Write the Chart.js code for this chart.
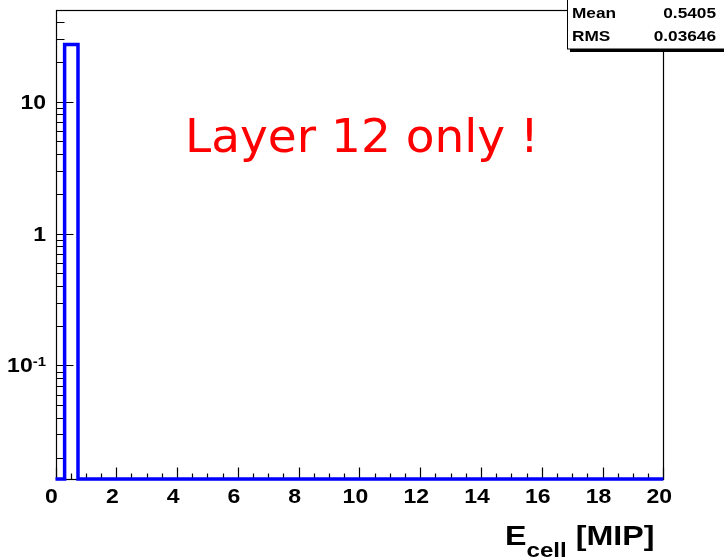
<!DOCTYPE html>
<html>
<head>
<meta charset="utf-8">
<script src="https://cdn.jsdelivr.net/npm/chart.js@4"></script>
<style>
html, body { margin: 0; padding: 0; background: #fff; }
#wrap { width: 724px; height: 560px; }
</style>
</head>
<body>
<div id="wrap"><canvas id="histo" width="724" height="560"></canvas></div>
<script>
// E_cell histogram, layer 12 only (ROOT style, log y)
const binEdges = [0, 0.3, 0.74, 20];
const binCounts = [0, 27, 0];
const xTickValues = [0, 2, 4, 6, 8, 10, 12, 14, 16, 18, 20];
const xTickLabels = ['0', '2', '4', '6', '8', '10', '12', '14', '16', '18', '20'];
const yTickValues = [0.1, 1, 10];
const yTickLabels = [['10', '-1'], ['1', ''], ['10', '']];
const statNames = ['Mean', 'RMS'];
const statValues = ['0.5405', '0.03646'];
const Y_MIN = 0.0138, Y_MAX = 49.4;

// empty bins sit on the bottom of the frame, like ROOT does in log scale
var pts = [];
for (var i = 0; i < binCounts.length; i++) {
    pts.push({x: binEdges[i], y: binCounts[i] > 0 ? binCounts[i] : Y_MIN});
}
pts.push({x: binEdges[binEdges.length - 1], y: binCounts[binCounts.length - 1] > 0 ? binCounts[binCounts.length - 1] : Y_MIN});

function stretchText(ctx, txt, x, y, align, sx) {
    ctx.save();
    ctx.translate(x, y);
    ctx.scale(sx, 1);
    ctx.textAlign = align;
    ctx.fillText(txt, 0, 0);
    ctx.restore();
}

function crisp(p) { return Math.round(p) + 0.5; }

const rootFrame = {
    id: 'rootFrame',
    beforeDatasetsDraw(chart) {
        const ctx = chart.ctx, a = chart.chartArea;
        const xs = chart.scales.x, ys = chart.scales.y;
        var L = crisp(a.left), R = crisp(a.right), T = crisp(a.top), B = crisp(a.bottom);
        ctx.save();
        ctx.strokeStyle = '#000';
        ctx.lineWidth = 1.2;
        ctx.strokeRect(L, T, R - L, B - T);
        ctx.beginPath();
        for (var v = xs.min; v <= xs.max + 1e-9; v += 0.5) {
            var px = crisp(xs.getPixelForValue(v));
            var major = xTickValues.some(t => Math.abs(t - v) < 1e-9);
            ctx.moveTo(px, B);
            ctx.lineTo(px, B - (major ? 12 : 6));
        }
        for (var e = -2; e <= 1; e++) {
            for (var m = 1; m <= 9; m++) {
                var val = m * Math.pow(10, e);
                if (val < Y_MIN || val > Y_MAX) continue;
                var py = crisp(ys.getPixelForValue(val));
                ctx.moveTo(L, py);
                ctx.lineTo(L + (m === 1 ? 17 : 8), py);
            }
        }
        ctx.stroke();
        ctx.restore();
    },
    afterDraw(chart) {
        const ctx = chart.ctx, a = chart.chartArea;
        const xs = chart.scales.x, ys = chart.scales.y;
        const sx = 1.15;
        ctx.save();
        ctx.fillStyle = '#000';
        ctx.textBaseline = 'alphabetic';

        // x tick labels (ROOT puts them a little left of the tick)
        ctx.font = 'bold 20px "Liberation Sans", Arial, sans-serif';
        xTickValues.forEach((v, i) => {
            stretchText(ctx, xTickLabels[i], xs.getPixelForValue(v) - 4, a.bottom + 24, 'center', sx);
        });

        // y tick labels with exponent
        yTickValues.forEach((v, i) => {
            var py = ys.getPixelForValue(v);
            var right = 46;
            var sup = yTickLabels[i][1];
            var supW = 0;
            if (sup) {
                ctx.font = 'bold 13px "Liberation Sans", Arial, sans-serif';
                supW = ctx.measureText(sup).width * sx;
                stretchText(ctx, sup, right - supW, py + 1, 'left', sx);
            }
            ctx.font = 'bold 20px "Liberation Sans", Arial, sans-serif';
            stretchText(ctx, yTickLabels[i][0], right - supW, py + 7, 'right', sx);
        });

        // x axis title  E_cell [MIP]
        var tx = 505;
        ctx.font = 'bold 28px "Liberation Sans", Arial, sans-serif';
        stretchText(ctx, 'E', tx, 545, 'left', sx);
        tx += ctx.measureText('E').width * sx;
        ctx.font = 'bold 21px "Liberation Sans", Arial, sans-serif';
        stretchText(ctx, 'cell', tx, 557, 'left', sx);
        tx += ctx.measureText('cell').width * sx;
        ctx.font = 'bold 28px "Liberation Sans", Arial, sans-serif';
        stretchText(ctx, ' [MIP]', tx, 545, 'left', sx);

        // annotation
        ctx.fillStyle = '#ff0000';
        ctx.font = '47px "DejaVu Sans", sans-serif';
        ctx.textAlign = 'left';
        ctx.fillText('Layer 12 only !', 185, 152);

        // stats box
        ctx.fillStyle = '#000';
        ctx.fillRect(570, 49, 160, 3);
        ctx.fillStyle = '#fff';
        ctx.fillRect(567, -5, 165, 54);
        ctx.strokeStyle = '#000';
        ctx.lineWidth = 1;
        ctx.strokeRect(567.5, -5, 165, 54);
        ctx.fillStyle = '#000';
        ctx.font = 'bold 15px "Liberation Sans", Arial, sans-serif';
        statNames.forEach((n, i) => {
            var by = 18 + i * 23;
            stretchText(ctx, n, 572, by, 'left', sx);
            stretchText(ctx, statValues[i], 716, by, 'right', sx);
        });
        ctx.restore();
    }
};

new Chart(document.getElementById('histo'), {
    type: 'line',
    data: {
        datasets: [{
            data: pts,
            borderColor: '#0000ff',
            borderWidth: 3.5,
            pointRadius: 0,
            stepped: true,
            fill: false,
            clip: 4
        }]
    },
    options: {
        responsive: false,
        animation: false,
        layout: { padding: { top: 10, right: 60.7, left: 0, bottom: 0 } },
        plugins: { legend: { display: false }, tooltip: { enabled: false } },
        scales: {
            x: {
                type: 'linear', min: 0, max: 20,
                ticks: { display: false },
                grid: { display: false },
                border: { display: false },
                afterFit: s => { s.height = 81; }
            },
            y: {
                type: 'logarithmic', min: Y_MIN, max: Y_MAX,
                ticks: { display: false },
                grid: { display: false },
                border: { display: false },
                afterFit: s => { s.width = 55.5; }
            }
        }
    },
    plugins: [rootFrame]
});
</script>
</body>
</html>
